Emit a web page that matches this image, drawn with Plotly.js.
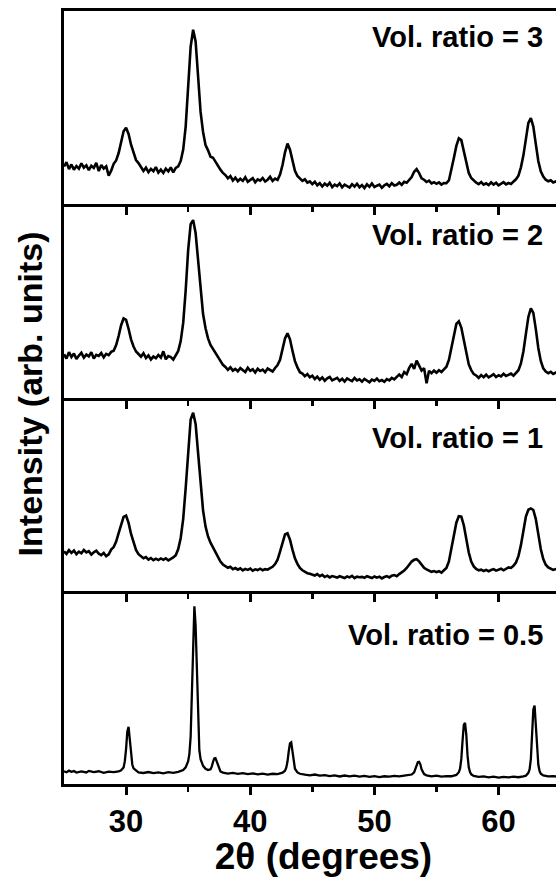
<!DOCTYPE html>
<html>
<head>
<meta charset="utf-8">
<script src="https://cdn.plot.ly/plotly-3.0.1.min.js"></script>
<style>
html,body{margin:0;padding:0;background:#fff;overflow:hidden;width:556px;height:877px;}
#chart{width:583px;height:877px;}
</style>
</head>
<body>
<div id="chart"></div>
<script>
// 2θ grid (degrees) shared by the three broad patterns
const twoTheta = [
25.0,25.2,25.4,25.6,25.8,26.0,26.2,26.4,26.6,26.8,
27.0,27.2,27.4,27.6,27.8,28.0,28.2,28.4,28.6,28.8,
29.0,29.2,29.4,29.6,29.8,30.0,30.2,30.4,30.6,30.8,
31.0,31.2,31.4,31.6,31.8,32.0,32.2,32.4,32.6,32.8,
33.0,33.2,33.4,33.6,33.8,34.0,34.2,34.4,34.6,34.8,
35.0,35.2,35.4,35.6,35.8,36.0,36.2,36.4,36.6,36.8,
37.0,37.2,37.4,37.6,37.8,38.0,38.2,38.4,38.6,38.8,
39.0,39.2,39.4,39.6,39.8,40.0,40.2,40.4,40.6,40.8,
41.0,41.2,41.4,41.6,41.8,42.0,42.2,42.4,42.6,42.8,
43.0,43.2,43.4,43.6,43.8,44.0,44.2,44.4,44.6,44.8,
45.0,45.2,45.4,45.6,45.8,46.0,46.2,46.4,46.6,46.8,
47.0,47.2,47.4,47.6,47.8,48.0,48.2,48.4,48.6,48.8,
49.0,49.2,49.4,49.6,49.8,50.0,50.2,50.4,50.6,50.8,
51.0,51.2,51.4,51.6,51.8,52.0,52.2,52.4,52.6,52.8,
53.0,53.2,53.4,53.6,53.8,54.0,54.2,54.4,54.6,54.8,
55.0,55.2,55.4,55.6,55.8,56.0,56.2,56.4,56.6,56.8,
57.0,57.2,57.4,57.6,57.8,58.0,58.2,58.4,58.6,58.8,
59.0,59.2,59.4,59.6,59.8,60.0,60.2,60.4,60.6,60.8,
61.0,61.2,61.4,61.6,61.8,62.0,62.2,62.4,62.6,62.8,
63.0,63.2,63.4,63.6,63.8,64.0,64.2,64.4,64.6,64.8,
65.0,65.2,65.4,65.6,65.8,66.0,66.2,66.4,66.6,66.8];

// Vol. ratio = 3
const ratio3 = [
19.5,21.8,18.2,20.6,17.9,19.8,18.4,21.2,18.9,20.1,
17.6,19.9,18.8,21.4,17.2,20.3,18.5,19.6,14.8,17.4,
20.9,22.7,26.5,33.1,37.8,39.6,36.4,30.8,26.2,22.9,
21.3,19.4,17.2,18.9,16.6,18.3,17.1,19.2,16.4,17.9,
16.2,18.4,17.0,19.1,16.5,18.8,19.6,22.4,28.3,40.2,
59.8,81.5,90.3,84.2,66.1,47.8,37.4,30.6,27.9,24.6,
24.1,21.8,19.7,17.9,16.2,15.1,13.4,14.6,12.3,13.8,
11.9,13.2,12.1,14.0,11.6,12.8,13.5,11.4,12.9,12.2,
13.6,11.8,12.7,14.2,12.1,13.3,12.6,15.4,20.3,26.9,
31.4,28.2,22.1,17.3,14.6,13.5,12.1,12.9,11.2,11.8,
10.4,11.6,9.8,10.9,9.2,10.7,9.6,11.1,8.9,10.2,
9.4,10.8,8.7,10.1,9.5,8.6,10.4,9.1,10.6,8.8,
9.9,8.4,10.3,9.0,10.7,8.9,9.6,10.2,8.5,9.8,
10.5,9.3,10.9,9.7,10.1,11.2,10.0,11.6,11.1,12.4,
14.1,16.8,18.2,16.1,13.4,12.7,11.5,12.2,10.8,11.4,
10.6,11.3,10.2,11.0,10.9,12.3,17.6,23.9,30.2,34.1,
33.2,27.8,21.4,16.2,13.6,12.1,11.2,10.4,11.5,10.1,
10.8,9.9,11.3,10.2,11.1,9.8,10.6,11.4,10.3,11.0,
10.5,11.6,12.9,14.8,19.1,25.3,34.2,42.1,44.6,40.2,
31.1,22.4,17.0,14.3,12.7,11.9,12.4,11.3,11.8,11.0,
11.7,10.9,11.5,11.0,11.8,11.2,10.8,11.6,11.1,11.4];

// Vol. ratio = 2
const ratio2 = [
22.4,20.1,23.5,21.0,22.8,19.9,21.7,23.1,20.6,22.2,
21.3,23.4,20.2,22.1,21.5,23.0,20.8,22.6,21.9,23.6,
24.2,27.1,31.8,37.4,40.9,40.2,35.6,30.1,26.4,23.8,
22.5,21.1,22.9,20.4,21.8,19.7,21.2,20.3,22.0,20.6,
23.9,19.8,21.4,20.9,19.6,22.3,24.1,29.2,38.6,55.4,
76.3,89.7,91.8,85.1,70.4,55.6,43.2,35.8,30.6,27.2,
25.1,22.9,20.4,18.6,16.9,15.8,14.3,15.6,13.9,14.8,
13.6,15.2,14.1,13.2,15.4,13.8,14.6,12.9,14.9,13.7,
14.4,13.1,15.0,14.2,13.5,15.3,16.8,19.5,24.7,30.6,
33.2,30.1,24.2,18.8,15.6,13.1,12.4,11.0,12.1,10.5,
11.3,9.6,10.8,9.2,10.4,8.7,9.9,10.6,8.9,9.5,
10.2,8.6,9.7,8.3,9.9,9.1,8.5,10.1,8.8,9.4,
8.2,9.6,8.9,7.9,9.3,8.6,9.8,8.4,9.0,8.1,
9.5,8.8,10.1,9.4,10.7,11.9,10.6,13.2,12.1,15.3,
17.4,14.8,19.1,16.3,13.9,15.2,7.4,13.8,12.6,13.9,
12.8,14.1,13.2,14.6,15.9,19.4,25.7,32.8,38.1,39.4,
36.2,29.8,22.6,17.1,14.2,12.1,11.4,10.2,11.6,10.5,
11.8,10.4,11.2,12.1,10.6,11.5,10.9,12.3,11.1,11.9,
12.4,11.3,12.8,14.1,17.6,23.8,32.9,41.7,46.1,43.8,
35.4,25.6,18.9,15.1,13.4,12.6,13.3,12.2,12.9,12.5,
12.1,12.8,12.4,12.9,12.3,12.7,12.2,12.6,12.0,12.5];

// Vol. ratio = 1
const ratio1 = [
20.4,19.1,21.0,19.6,20.8,18.9,20.2,19.4,21.1,19.8,
20.5,18.7,19.9,20.7,19.2,18.4,19.6,17.9,18.8,21.3,
22.6,25.4,29.8,34.7,38.2,38.9,35.1,29.4,24.6,21.1,
18.9,17.6,16.8,17.4,16.1,16.9,15.8,16.6,15.9,16.7,
16.0,16.8,15.7,16.5,17.2,18.4,21.6,27.3,37.2,53.1,
73.4,88.6,92.1,86.3,71.2,54.8,41.6,33.2,28.1,24.9,
22.3,19.6,17.2,15.1,13.6,12.8,11.9,12.4,11.2,11.8,
10.9,11.6,10.5,11.3,10.8,11.5,10.4,11.1,10.7,11.4,
10.6,11.2,10.9,11.7,12.4,13.8,16.1,20.2,25.3,29.1,
29.7,26.4,21.3,16.8,13.9,11.8,10.6,9.7,9.1,8.8,
8.4,7.9,8.6,7.5,8.2,7.1,7.8,6.9,7.6,7.2,
6.8,7.5,7.1,6.6,7.4,6.9,7.7,6.5,7.3,7.0,
7.2,6.7,7.5,7.0,6.6,7.4,6.8,7.3,6.4,7.1,
7.6,6.9,7.8,8.1,7.5,8.6,9.4,10.5,11.8,13.6,
15.1,16.0,16.3,15.2,13.4,11.9,11.0,10.4,9.8,10.2,
9.6,10.1,9.4,10.6,11.8,15.2,21.4,28.6,35.2,38.6,
38.4,33.9,26.8,19.8,15.1,12.6,11.3,10.6,10.9,10.2,
10.8,10.1,10.7,11.2,10.4,10.9,11.4,10.6,11.3,12.1,
11.8,12.9,14.6,17.9,23.6,31.2,38.4,41.9,42.6,41.8,
37.1,29.3,21.6,16.4,13.5,12.1,11.3,10.8,11.2,10.6,
10.9,10.5,11.0,10.7,10.4,10.8,10.6,11.1,10.5,10.9];

// Vol. ratio = 0.5 (sharp pattern, finer steps around peaks)
const twoThetaHalf = [
25.0,25.2,25.4,25.6,25.8,26.0,26.4,26.8,27.0,27.4,27.8,28.2,28.6,29.0,29.4,29.6,29.8,29.9,
30.0,30.1,30.2,30.3,30.4,30.5,30.6,30.8,31.0,31.4,31.8,32.2,32.6,33.0,33.4,33.8,34.2,34.6,34.8,
35.0,35.1,35.2,35.3,35.4,35.5,35.6,35.7,35.8,35.9,36.0,36.2,36.4,36.6,36.8,36.9,
37.0,37.1,37.2,37.3,37.4,37.5,37.6,37.8,38.2,38.6,39.0,39.4,39.8,40.2,40.6,41.0,41.4,41.8,42.2,42.6,42.8,42.9,
43.0,43.1,43.2,43.3,43.4,43.5,43.6,43.8,44.0,44.4,44.8,45.2,45.6,46.0,46.4,46.8,47.2,47.6,48.0,48.4,48.8,
49.2,49.6,50.0,50.4,50.8,51.2,51.6,52.0,52.4,52.8,53.0,53.2,53.3,53.4,53.5,53.6,53.7,53.8,53.9,54.0,54.2,54.6,
55.0,55.4,55.8,56.2,56.6,56.8,56.9,57.0,57.1,57.2,57.3,57.4,57.5,57.6,57.7,57.8,58.0,58.4,58.8,
59.2,59.6,60.0,60.4,60.8,61.2,61.6,62.0,62.2,62.4,62.5,62.6,62.7,62.8,62.9,63.0,63.1,63.2,63.3,63.4,63.6,
64.0,64.4,64.8,65.2,65.6,66.0,66.4,66.8];
const ratioHalf = [
6.6,6.1,6.9,6.3,6.7,5.9,6.5,6.0,6.8,6.2,6.6,5.8,6.4,6.1,6.5,7.1,8.6,11.8,
18.2,27.1,29.6,23.8,14.6,10.1,8.1,6.8,6.0,5.7,6.2,5.6,6.0,5.5,6.1,5.8,6.3,7.2,8.6,
11.8,15.6,24.5,48.0,78.0,92.0,82.0,56.0,29.0,17.5,12.8,9.4,7.9,7.2,7.6,9.0,
11.4,13.2,13.4,11.6,9.2,7.4,6.5,5.9,5.4,5.7,5.2,5.6,5.1,5.5,5.0,5.4,4.9,5.3,5.1,5.9,6.9,8.4,
11.6,16.8,21.0,21.5,16.4,10.9,7.9,6.0,5.3,4.8,4.5,4.9,4.3,4.6,4.1,4.5,3.9,4.4,4.0,4.3,3.8,
4.2,3.7,4.1,3.6,4.0,3.8,4.2,3.9,4.3,4.5,4.9,6.0,7.6,9.8,11.3,11.5,10.2,7.6,6.0,5.1,4.5,4.0,
4.3,3.8,4.1,4.0,4.7,6.1,8.0,13.0,22.4,30.6,31.6,25.6,14.8,8.6,6.2,5.0,4.2,3.7,3.9,
3.4,3.8,3.3,3.7,3.4,3.8,3.5,3.9,4.3,5.8,7.6,12.8,24.6,38.6,40.6,31.8,18.2,10.1,6.8,5.3,4.4,
3.9,4.1,3.7,4.0,3.8,3.9,4.1,3.8];

const panelLabels = ['Vol. ratio = 3','Vol. ratio = 2','Vol. ratio = 1','Vol. ratio = 0.5'];
const xTickVals = [30,40,50,60];
const xTickText = ['30','40','50','60'];
const xMinorVals = [35,45,55,65];

const FONT = 'Liberation Sans, Arial, Helvetica, sans-serif';
const series = [
  {x: twoTheta, y: ratio3, w: 2.6},
  {x: twoTheta, y: ratio2, w: 2.6},
  {x: twoTheta, y: ratio1, w: 2.6},
  {x: twoThetaHalf, y: ratioHalf, w: 2.3}
];
const traces = series.map((s, i) => ({
  x: s.x, y: s.y, type: 'scatter', mode: 'lines',
  xaxis: i === 0 ? 'x' : 'x' + (i + 1),
  yaxis: i === 0 ? 'y' : 'y' + (i + 1),
  line: {color: '#000', width: s.w},
  hoverinfo: 'skip', showlegend: false
}));

const XR = [25, 66.8];
const layout = {
  width: 583, height: 877,
  margin: {l: 64, r: 0, t: 11, b: 93},
  paper_bgcolor: 'rgba(0,0,0,0)', plot_bgcolor: 'rgba(0,0,0,0)',
  showlegend: false,
  font: {family: FONT, color: '#000'},
  annotations: []
};
const domains = [[0.75, 1], [0.5, 0.75], [0.25, 0.5], [0, 0.25]];
for (let i = 0; i < 4; i++) {
  const xk = i === 0 ? 'xaxis' : 'xaxis' + (i + 1);
  const yk = i === 0 ? 'yaxis' : 'yaxis' + (i + 1);
  const yid = i === 0 ? 'y' : 'y' + (i + 1);
  const last = i === 3;
  layout[xk] = {
    range: XR, anchor: yid, domain: [0, 1],
    showline: true, linecolor: '#000', linewidth: 3,
    mirror: i === 0 ? true : false,
    showgrid: false, zeroline: false,
    ticks: 'outside', ticklen: 8, tickwidth: 3, tickcolor: '#000',
    tickvals: xTickVals, ticktext: xTickText,
    minor: {tickvals: xMinorVals, ticks: 'outside', ticklen: 5, tickwidth: 2.5, tickcolor: '#000', showgrid: false},
    showticklabels: last,
    tickfont: {family: FONT, size: 31, weight: 'bold', color: '#000'},
    fixedrange: true
  };
  if (i > 0) layout[xk].matches = 'x';
  if (last) {
    layout[xk].title = {text: '2\u03b8 (degrees)', font: {family: FONT, size: 37, weight: 'bold', color: '#000'}, standoff: 0};
  }
  layout[yk] = {
    range: [0, 100], domain: domains[i], anchor: i === 0 ? 'x' : 'x' + (i + 1),
    showline: true, linecolor: '#000', linewidth: 3,
    showgrid: false, zeroline: false, ticks: '', showticklabels: false,
    fixedrange: true
  };
}
const labelY = [0.9664, 0.7096, 0.4476, 0.1928];
panelLabels.forEach((t, i) => {
  layout.annotations.push({
    text: t, xref: 'x', yref: 'paper', x: 63.75, y: labelY[i],
    xanchor: 'right', yanchor: 'middle', showarrow: false,
    font: {family: FONT, size: 29, weight: 'bold', color: '#000'}
  });
});
layout.annotations.push({
  text: 'Intensity (arb. units)', xref: 'paper', yref: 'paper',
  x: -0.066, y: 0.505, xanchor: 'center', yanchor: 'middle', textangle: -90,
  showarrow: false, font: {family: FONT, size: 34, weight: 'bold', color: '#000'}
});

Plotly.newPlot('chart', traces, layout, {displayModeBar: false, staticPlot: true});
</script>
</body>
</html>
